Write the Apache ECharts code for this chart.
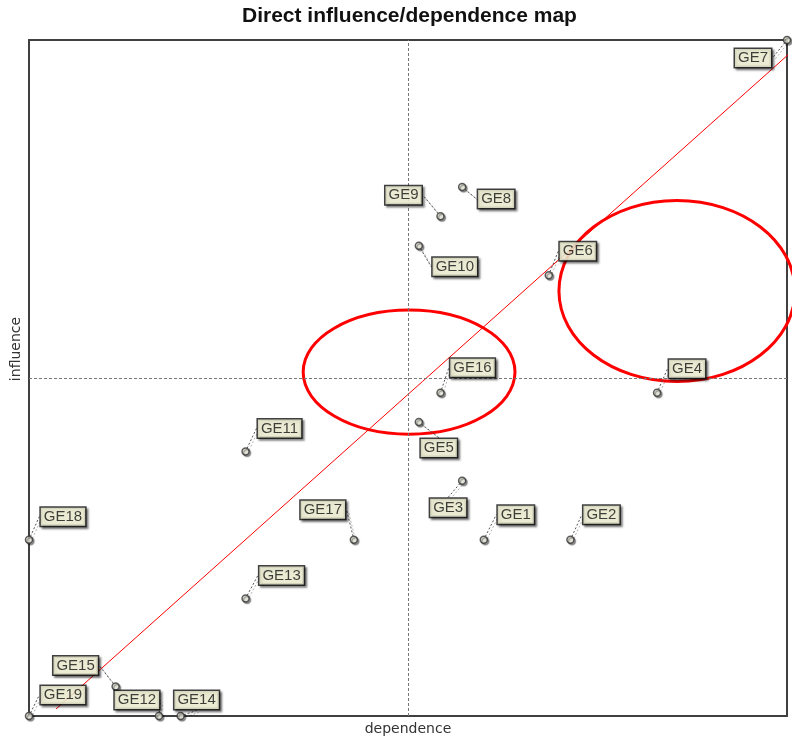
<!DOCTYPE html>
<html>
<head>
    <meta charset="utf-8">
    <title>Direct influence/dependence map</title>
    <script src="https://cdn.jsdelivr.net/npm/echarts@6/dist/echarts.min.js"></script>
    <style>
        html, body { margin: 0; padding: 0; background: #fff; }
        #container { width: 792px; height: 740px; }
    </style>
</head>
<body>
<div id="container"></div>
<script type="text/javascript">
// variables GE1..GE19
var names = ['GE1','GE2','GE3','GE4','GE5','GE6','GE7','GE8','GE9','GE10',
             'GE11','GE12','GE13','GE14','GE15','GE16','GE17','GE18','GE19'];
var dependence = [21, 25, 20, 29, 18, 24, 35, 20, 19, 18, 10, 6, 10, 7, 4, 19, 15, 0, 0];
var influence  = [ 6,  6,  8, 11, 10, 15, 23, 18, 17, 16,  9, 0,  4, 0, 1, 11,  6, 6, 0];

// hand drawn annotations, in data units
var diagonal = [[1.25, 0.24], [35.6, 22.86]];
var circles = [
    {cx: 17.55, cy: 11.70, rx: 4.89, ry: 2.11},
    {cx: 29.92, cy: 14.46, rx: 5.45, ry: 3.08}
];

// where each label box sits relative to its point (px)
var labelShift = {
    GE1: [32,-25], GE2: [31,-25], GE3: [-14,27], GE4: [30,-24], GE5: [20,26],
    GE6: [29,-24], GE7: [-34,18], GE8: [34,12], GE9: [-37,-21], GE10: [36,21],
    GE11: [34,-23], GE12: [-22,-16], GE13: [36,-23], GE14: [16,-16], GE15: [-40,-21],
    GE16: [32,-25], GE17: [-31,-30], GE18: [34,-23], GE19: [34,-21]
};

var xMin = 0, xMax = 35, yMin = 0, yMax = 23;

var points = names.map(function (n, i) {
    return {name: n, value: [dependence[i], influence[i]]};
});

var dom = document.getElementById('container');
var myChart = echarts.init(dom, null, {renderer: 'canvas'});

var option = {
    animation: false,
    title: {
        text: 'Direct influence/dependence map',
        left: 237,
        top: 3,
        padding: [3, 5, 3, 5],
        textStyle: {fontFamily: 'Liberation Sans', fontWeight: 'bold', fontSize: 21, color: '#111'}
    },
    grid: {
        left: 29, right: 5, top: 40, bottom: 24,
        outerBoundsMode: 'none',
        containLabel: false,
        show: true, borderColor: '#404040', borderWidth: 2, backgroundColor: '#fff'
    },
    xAxis: {
        type: 'value', min: xMin, max: xMax,
        name: 'dependence', nameLocation: 'middle', nameGap: 6,
        nameTextStyle: {fontFamily: 'DejaVu Sans', fontSize: 14, color: '#333', verticalAlign: 'top'},
        axisLine: {show: false}, axisTick: {show: false}, axisLabel: {show: false}, splitLine: {show: false}
    },
    yAxis: {
        type: 'value', min: yMin, max: yMax,
        name: 'influence', nameLocation: 'middle', nameGap: 6,
        nameTextStyle: {fontFamily: 'DejaVu Sans', fontSize: 14, color: '#333', padding: [0, 0, 0, 58]},
        axisLine: {show: false}, axisTick: {show: false}, axisLabel: {show: false}, splitLine: {show: false}
    },
    series: [
        {
            type: 'line',
            data: diagonal,
            clip: false,
            silent: true,
            symbol: 'none',
            lineStyle: {color: '#ff0000', width: 1},
            z: 3
        },
        {
            type: 'scatter',
            data: points,
            clip: false,
            symbol: 'circle',
            symbolSize: 7,
            itemStyle: {
                color: '#f2f2e6', borderColor: '#333', borderWidth: 1.5,
                shadowColor: 'rgba(0,0,0,0.45)', shadowOffsetX: 1.5, shadowOffsetY: 1.5, shadowBlur: 1
            },
            markLine: {
                silent: true,
                symbol: 'none',
                label: {show: false},
                lineStyle: {color: '#777', type: [3, 2], width: 1},
                data: [
                    {xAxis: (xMin + xMax) / 2},
                    {yAxis: (yMin + yMax) / 2}
                ]
            },
            label: {
                show: true,
                position: 'inside',
                formatter: '{b}',
                fontFamily: 'Liberation Sans',
                fontSize: 15,
                color: '#111',
                backgroundColor: '#ffffe1',
                borderColor: '#111',
                borderWidth: 1.5,
                padding: [2, 3, 1, 3],
                shadowColor: 'rgba(0,0,0,0.5)',
                shadowOffsetX: 2, shadowOffsetY: 2, shadowBlur: 2
            },
            labelLine: {
                show: true,
                lineStyle: {
                    color: '#555', width: 1, type: [2, 2],
                    shadowColor: 'rgba(0,0,0,0.3)', shadowOffsetX: 2, shadowOffsetY: 2
                }
            },
            labelLayout: function (params) {
                var s = labelShift[names[params.dataIndex]];
                return {dx: s[0], dy: s[1]};
            },
            z: 5
        }
    ]
};

myChart.setOption(option, true);

// red ellipses placed from data units
var gfx = circles.map(function (c) {
    var p = myChart.convertToPixel({gridIndex: 0}, [c.cx, c.cy]);
    var p2 = myChart.convertToPixel({gridIndex: 0}, [c.cx + c.rx, c.cy + c.ry]);
    return {
        type: 'ellipse',
        silent: true,
        z: 4,
        shape: {cx: p[0], cy: p[1], rx: Math.abs(p2[0] - p[0]), ry: Math.abs(p[1] - p2[1])},
        style: {fill: null, stroke: '#ff0000', lineWidth: 3}
    };
});
myChart.setOption({graphic: gfx});
</script>
</body>
</html>
